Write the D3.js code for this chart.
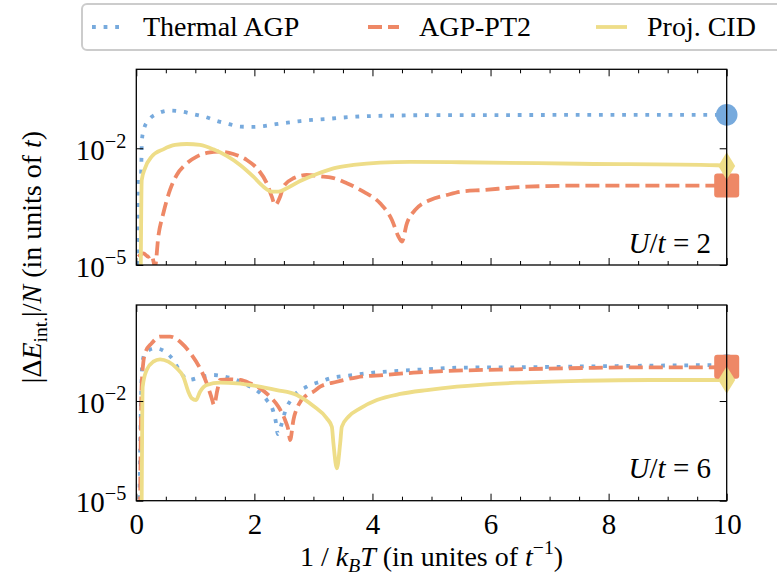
<!DOCTYPE html>
<html>
<head>
<meta charset="utf-8">
<script src="https://cdn.jsdelivr.net/npm/d3@7"></script>
<style>
    body { margin: 0; background: #fff; }
    svg { display: block; }
    svg text, svg tspan { font-family: "Liberation Serif", "Times New Roman", Times, "DejaVu Serif", "Noto Serif", serif !important; fill: #000; }
</style>
</head>
<body>
<svg id="chart" width="777" height="580" font-family="Liberation Serif, Times New Roman, serif"></svg>
<script>
// ---- data ----
const xTicks = [0, 2, 4, 6, 8, 10];
const xMinorTicks = [0.5, 1, 1.5, 2.5, 3, 3.5, 4.5, 5, 5.5, 6.5, 7, 7.5, 8.5, 9, 9.5];
const yTicks = [1e-5, 1e-2];
const yTickLabels = ['−5', '−2'];

const seriesNames = ['Thermal AGP', 'AGP-PT2', 'Proj. CID'];

// U/t = 2
const thermalU2x = [0.015, 0.03, 0.08, 0.095, 0.125, 0.2, 0.37, 0.57, 0.78, 0.97, 1.18, 1.37, 1.57, 1.77, 1.97, 2.16, 2.36, 2.56, 2.78, 2.98, 3.19, 3.59, 3.99, 4.41, 4.81, 10];
const thermalU2y = [5e-6, 1.7e-3, 2.2e-3, 0.016, 0.0295, 0.0513, 0.0794, 0.0933, 0.0871, 0.0748, 0.0631, 0.0501, 0.0417, 0.0359, 0.0355, 0.0372, 0.0417, 0.0457, 0.0501, 0.0537, 0.0562, 0.0631, 0.0676, 0.0692, 0.0708, 0.0724];

const pt2U2x = [0.034, 0.119, 0.203, 0.261, 0.317, 0.373, 0.458, 0.571, 0.685, 0.825, 1.024, 1.22, 1.419, 1.644, 1.871, 2.068, 2.21, 2.295, 2.351, 2.436, 2.492, 2.661, 2.888, 3.17, 3.283, 3.566, 3.847, 4.13, 4.33, 4.44, 4.498, 4.583, 4.724, 4.978, 5.26, 5.49, 5.876, 6.617, 7.57, 10];
const pt2U2y = [1.63e-5, 2.0e-5, 1.63e-5, 1.8e-5, 9e-6, 5.4e-5, 2.14e-4, 8.5e-4, 2.06e-3, 3.72e-3, 6.08e-3, 7.7e-3, 8.18e-3, 7.13e-3, 5.0e-3, 2.77e-3, 1.26e-3, 5.7e-4, 3.48e-4, 5.7e-4, 1.03e-3, 1.69e-3, 2.06e-3, 1.86e-3, 1.8e-3, 1.26e-3, 7.66e-4, 3.85e-4, 1.44e-4, 5.4e-5, 4.0e-5, 1.17e-4, 2.6e-4, 4.69e-4, 6.3e-4, 7.66e-4, 8.47e-4, 1.03e-3, 1.1e-3, 1.1e-3];

const cidU2x = [0.075, 0.092, 0.147, 0.26, 0.458, 0.656, 0.854, 1.08, 1.305, 1.532, 1.758, 1.983, 2.153, 2.295, 2.407, 2.549, 2.775, 3.058, 3.339, 3.678, 4.13, 4.64, 5.49, 7.5, 9.84, 10];
const cidU2y = [5e-6, 1.53e-3, 3.06e-3, 6.1e-3, 9.4e-3, 0.01216, 0.0129, 0.01216, 9.4e-3, 6.34e-3, 3.72e-3, 1.86e-3, 1.03e-3, 7.66e-4, 7.66e-4, 9.37e-4, 1.44e-3, 2.19e-3, 3.06e-3, 3.72e-3, 4.27e-3, 4.45e-3, 4.37e-3, 4.0e-3, 3.66e-3, 3.5e-3];

// U/t = 6
const thermalU6x = [0.05, 0.102, 0.147, 0.317, 0.486, 0.627, 0.741, 0.881, 1.108, 1.305, 1.503, 1.702, 1.871, 2.068, 2.21, 2.322, 2.363, 2.397, 2.464, 2.52, 2.661, 2.888, 3.114, 3.283, 3.678, 4.074, 4.47, 4.92, 5.43, 6.447, 8.14, 9.78, 10];
const thermalU6y = [5e-6, 0.137, 0.273, 0.386, 0.305, 0.172, 0.0764, 0.043, 0.054, 0.0607, 0.054, 0.043, 0.0303, 0.0191, 0.0107, 4.76e-3, 2.38e-3, 1.01e-3, 2.13e-3, 4.76e-3, 0.0135, 0.027, 0.0381, 0.0483, 0.0607, 0.0731, 0.0818, 0.0902, 0.1007, 0.1035, 0.113, 0.121, 0.122];

const pt2U6x = [0.063, 0.092, 0.147, 0.261, 0.402, 0.571, 0.769, 0.939, 1.08, 1.193, 1.278, 1.317, 1.373, 1.419, 1.588, 1.758, 1.927, 2.096, 2.266, 2.407, 2.52, 2.576, 2.605, 2.661, 2.746, 2.888, 3.0, 3.114, 3.397, 3.736, 4.186, 4.695, 5.26, 6.447, 7.576, 8.707, 9.724, 10];
const pt2U6y = [5e-6, 0.0341, 0.273, 0.547, 0.865, 0.865, 0.547, 0.243, 0.0966, 0.0341, 0.0121, 7.58e-3, 0.0214, 0.043, 0.045, 0.043, 0.0341, 0.0241, 0.0135, 6.73e-3, 2.68e-3, 1.34e-3, 6.68e-4, 2.68e-3, 7.58e-3, 0.0152, 0.0191, 0.027, 0.0381, 0.0518, 0.0607, 0.0711, 0.080, 0.0902, 0.0986, 0.1035, 0.1035, 0.107];

const cidU6x = [0.09, 0.1, 0.108, 0.176, 0.288, 0.402, 0.542, 0.685, 0.797, 0.881, 0.939, 1.012, 1.08, 1.193, 1.419, 1.702, 2.041, 2.38, 2.719, 3.0, 3.227, 3.312, 3.339, 3.397, 3.453, 3.481, 3.593, 3.792, 4.075, 4.47, 4.922, 5.43, 6.447, 7.576, 8.707, 10];
const cidU6y = [5e-6, 2.68e-3, 0.027, 0.0859, 0.153, 0.18, 0.153, 0.0966, 0.054, 0.0191, 0.0121, 0.0107, 0.0191, 0.0303, 0.0356, 0.0341, 0.0283, 0.0214, 0.0152, 7.06e-3, 3.01e-3, 1.68e-3, 5.3e-4, 9.4e-5, 5.3e-4, 1.68e-3, 3.37e-3, 6.03e-3, 0.0107, 0.0163, 0.0214, 0.027, 0.0356, 0.0408, 0.043, 0.043];

// ---- styling ----
const colors = ['#77AADD', '#EE8866', '#EEDD88'];
const dashes = ['3.8,7.8', '14,6', null];
const lineWidth = 3.8;
const serif = '"Liberation Serif", "Times New Roman", Times, "DejaVu Serif", serif';

const svg = d3.select('#chart');
const left = 136.3, right = 726.7;

const x = d3.scaleLinear().domain([0, 10]).range([left, right]);

const panels = [
    {id: 'u2', top: 69.3, bottom: 265, yMax: Math.pow(10, 0.03), label: '2', labelY: 253,
        series: [[thermalU2x, thermalU2y], [pt2U2x, pt2U2y], [cidU2x, cidU2y]], tickLabels: false},
    {id: 'u6', top: 305, bottom: 500.7, yMax: Math.pow(10, 0.89), label: '6', labelY: 478,
        series: [[thermalU6x, thermalU6y], [pt2U6x, pt2U6y], [cidU6x, cidU6y]], tickLabels: true}
];

// writes a mix of upright / italic / sub / sup pieces into a text node
function rich(textSel, parts, size) {
    let shift = 0;
    textSel.style('font-family', serif);
    parts.forEach(([s, kind]) => {
        kind = kind || '';
        let target = 0, fs = size;
        if (kind.includes('sub')) { target = 0.22 * size; fs = 0.7 * size; }
        if (kind.includes('sup')) { target = -0.42 * size; fs = 0.7 * size; }
        const t = textSel.append('tspan')
            .attr('dy', target - shift)
            .style('font-size', fs + 'px')
            .text(s);
        if (kind.includes('it')) t.style('font-style', 'italic');
        shift = target;
    });
}

function marker(g, kind, cx, cy, color) {
    if (kind === 0) {
        g.append('circle').attr('cx', cx).attr('cy', cy).attr('r', 10.8).attr('fill', color);
    } else if (kind === 1) {
        g.append('rect').attr('x', cx - 12.5).attr('y', cy - 12).attr('width', 25).attr('height', 24)
            .attr('rx', 3).attr('fill', color);
    } else {
        const w = 8.5, h = 13.8;
        g.append('path')
            .attr('d', `M${cx},${cy - h}L${cx + w},${cy}L${cx},${cy + h}L${cx - w},${cy}Z`)
            .attr('fill', color);
    }
}

panels.forEach(p => {
    const y = d3.scaleLog().domain([1e-5, p.yMax]).range([p.bottom, p.top]);
    const g = svg.append('g').attr('class', 'panel-' + p.id);

    g.append('clipPath').attr('id', 'clip-' + p.id)
        .append('rect').attr('x', left).attr('y', p.top)
        .attr('width', right - left).attr('height', p.bottom - p.top);

    const line = d3.line()
        .x(d => x(d[0]))
        .y(d => y(d[1]))
        .curve(d3.curveMonotoneX);

    const plot = g.append('g').attr('clip-path', `url(#clip-${p.id})`);
    p.series.forEach(([xs, ys], i) => {
        const data = xs.map((v, k) => [v, ys[k]]);
        plot.append('path')
            .datum(data)
            .attr('d', line)
            .attr('fill', 'none')
            .attr('stroke', colors[i])
            .attr('stroke-width', lineWidth)
            .attr('stroke-dasharray', dashes[i])
            .attr('stroke-linejoin', 'round');
    });

    // end-point markers at 1/kT = 10
    const marks = g.append('g');
    p.series.forEach(([xs, ys], i) => {
        const n = xs.length - 1;
        marker(marks, i, x(xs[n]), y(ys[n]), colors[i]);
    });

    // axes: inward ticks on all four sides
    const axisStyle = sel => {
        sel.attr('font-family', null);
        sel.select('.domain').remove();
        sel.selectAll('.tick line').attr('stroke', '#000').attr('stroke-width', 1);
    };

    g.append('g').attr('transform', `translate(0,${p.bottom})`)
        .call(d3.axisBottom(x).tickValues(xTicks).tickSize(-7).tickPadding(13)
            .tickFormat(p.tickLabels ? d3.format('d') : () => ''))
        .call(axisStyle)
        .call(s => s.selectAll('text').style('font-size', '29px').style('font-family', serif));
    g.append('g').attr('transform', `translate(0,${p.bottom})`)
        .call(d3.axisBottom(x).tickValues(xMinorTicks).tickSize(-4).tickFormat(() => ''))
        .call(axisStyle);
    g.append('g').attr('transform', `translate(0,${p.top})`)
        .call(d3.axisTop(x).tickValues(xTicks).tickSize(-7).tickFormat(() => ''))
        .call(axisStyle);
    g.append('g').attr('transform', `translate(0,${p.top})`)
        .call(d3.axisTop(x).tickValues(xMinorTicks).tickSize(-4).tickFormat(() => ''))
        .call(axisStyle);

    const yl = g.append('g').attr('transform', `translate(${left},0)`)
        .call(d3.axisLeft(y).tickValues(yTicks).tickSize(-7).tickFormat(() => ''))
        .call(axisStyle);
    yl.selectAll('.tick').each(function (d, i) {
        const t = d3.select(this).append('text')
            .attr('x', -10).attr('y', 11)
            .attr('text-anchor', 'end')
            .style('font-size', '29px');
        rich(t, [['10'], [yTickLabels[i], 'sup']], 29);
    });
    g.append('g').attr('transform', `translate(${right},0)`)
        .call(d3.axisRight(y).tickValues(yTicks).tickSize(-7).tickFormat(() => ''))
        .call(axisStyle);

    g.append('rect')
        .attr('x', left).attr('y', p.top)
        .attr('width', right - left).attr('height', p.bottom - p.top)
        .attr('fill', 'none').attr('stroke', '#000').attr('stroke-width', 1.3);

    const ann = g.append('text')
        .attr('x', 711).attr('y', p.labelY)
        .attr('text-anchor', 'end')
        .style('font-size', '29px');
    rich(ann, [['U', 'it'], ['/'], ['t', 'it'], [' = ' + p.label]], 29);
});

// y label
const ylab = svg.append('text')
    .attr('transform', 'translate(41,257) rotate(-90)')
    .attr('text-anchor', 'middle')
    .style('font-size', '28px');
rich(ylab, [['|Δ'], ['E', 'it'], ['int.', 'sub'], ['|/'], ['N', 'it'], [' (in units of '], ['t', 'it'], [')']], 28);

// x label
const xlab = svg.append('text')
    .attr('x', (left + right) / 2).attr('y', 566)
    .attr('text-anchor', 'middle')
    .style('font-size', '28px');
rich(xlab, [['1 / '], ['k', 'it'], ['B', 'itsub'], ['T', 'it'], [' (in unites of '], ['t', 'it'], ['−1', 'sup'], [')']], 28);

// legend
const legend = svg.append('g');
legend.append('rect')
    .attr('x', 82).attr('y', 4).attr('width', 720).attr('height', 46).attr('rx', 5)
    .attr('fill', '#fff').attr('stroke', '#cccccc').attr('stroke-width', 2);
const legendX = [92, 368, 596];
seriesNames.forEach((name, i) => {
    legend.append('line')
        .attr('x1', legendX[i]).attr('x2', legendX[i] + 31)
        .attr('y1', 27).attr('y2', 27)
        .attr('stroke', colors[i]).attr('stroke-width', lineWidth)
        .attr('stroke-dasharray', dashes[i]);
    legend.append('text')
        .attr('x', legendX[i] + 51).attr('y', 36)
        .style('font-size', '28px')
        .style('font-family', serif)
        .text(name);
});
</script>
</body>
</html>
